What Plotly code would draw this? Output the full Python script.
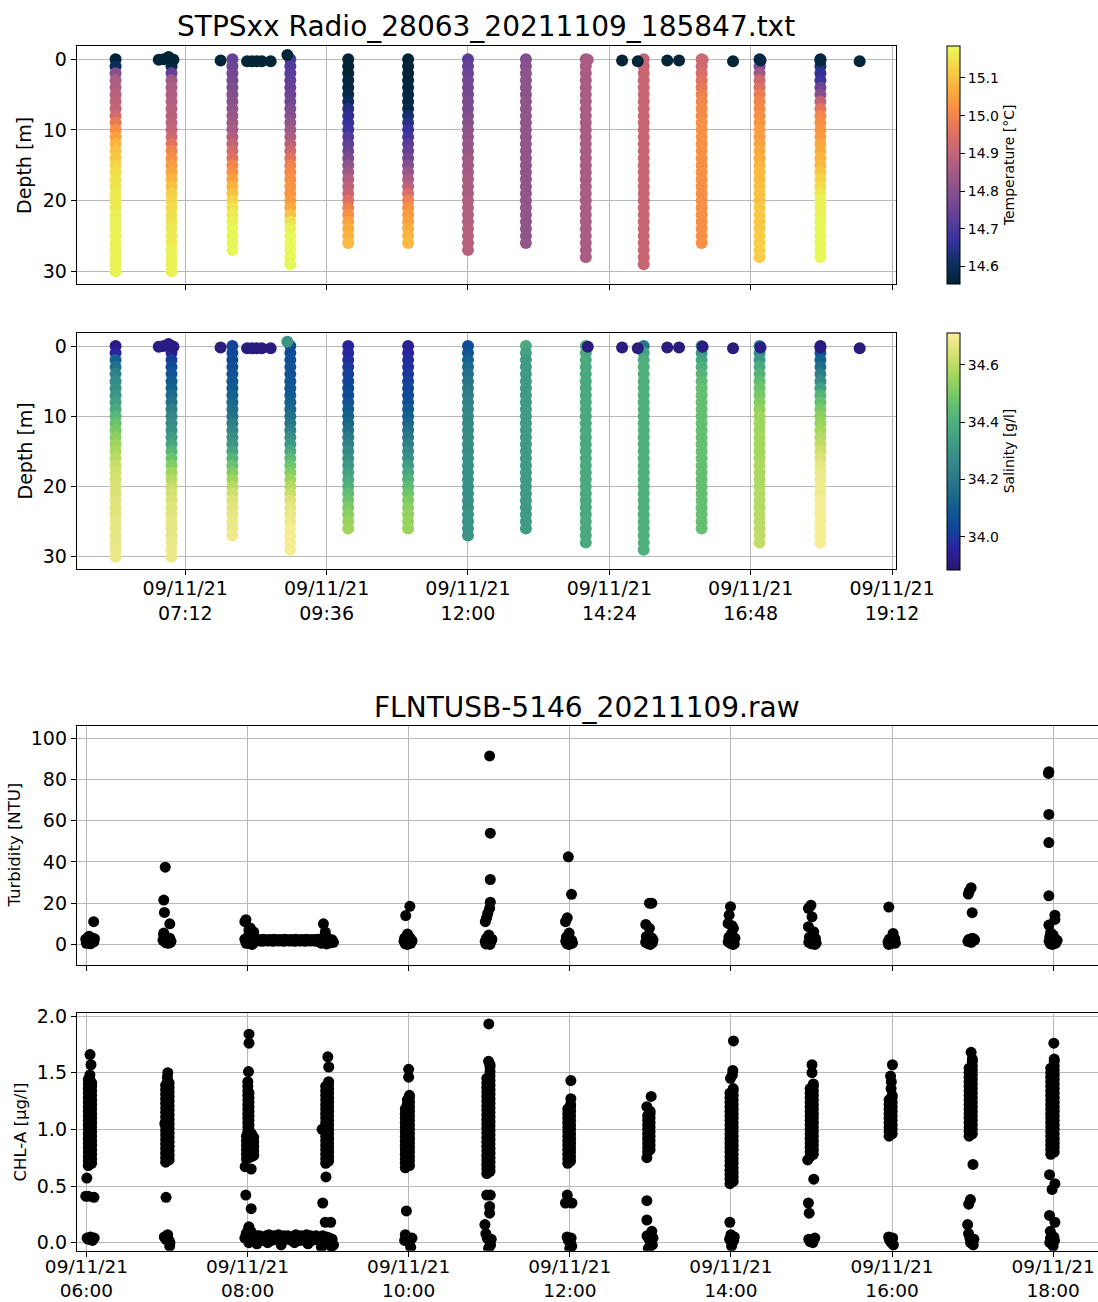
import pandas as pd
import plotly.graph_objects as go

DAY = "2021-11-09"

# ---------------- CTD casts (values per 1 m depth bin, from the surface) ----------------
PROFILE_TIMES = ["06:01", "06:58", "08:00", "08:59", "09:58", "10:59", "12:00",
                 "12:59", "14:00", "14:59", "15:58", "16:57", "17:59"]

TEMP_PROFILES = [
    [14.56, 14.60, 14.80, 14.86, 14.87, 14.88, 14.89, 14.90, 14.93, 14.98, 15.02, 15.05, 15.08, 15.10, 15.11, 15.13,
     15.14, 15.15, 15.15, 15.16, 15.16, 15.16, 15.17, 15.17, 15.17, 15.17, 15.17, 15.17, 15.17, 15.17, 15.17],
    [14.56, 14.58, 14.74, 14.84, 14.86, 14.87, 14.87, 14.88, 14.88, 14.89, 14.90, 14.92, 14.96, 15.00, 15.02, 15.04,
     15.06, 15.08, 15.10, 15.12, 15.13, 15.14, 15.15, 15.15, 15.16, 15.16, 15.16, 15.17, 15.17, 15.17, 15.17],
    [14.74, 14.75, 14.76, 14.77, 14.78, 14.79, 14.80, 14.82, 14.83, 14.84, 14.85, 14.87, 14.90, 14.93, 14.95, 15.00,
     15.02, 15.05, 15.08, 15.10, 15.13, 15.15, 15.16, 15.17, 15.18, 15.18, 15.18, 15.18],
    [14.70, 14.71, 14.72, 14.73, 14.74, 14.75, 14.76, 14.78, 14.80, 14.82, 14.84, 14.86, 14.89, 14.92, 14.96, 14.99,
     15.01, 15.02, 15.03, 15.03, 15.04, 15.06, 15.10, 15.15, 15.17, 15.18, 15.18, 15.18, 15.18, 15.18],
    [14.56, 14.56, 14.56, 14.57, 14.57, 14.58, 14.60, 14.64, 14.66, 14.67, 14.68, 14.71, 14.73, 14.75, 14.78, 14.81,
     14.84, 14.87, 14.89, 14.91, 14.95, 14.99, 15.02, 15.05, 15.07, 15.08, 15.09],
    [14.56, 14.56, 14.56, 14.56, 14.57, 14.57, 14.57, 14.58, 14.62, 14.65, 14.67, 14.69, 14.72, 14.74, 14.76, 14.79,
     14.83, 14.86, 14.89, 14.94, 14.99, 15.02, 15.04, 15.05, 15.07, 15.08, 15.09],
    [14.72, 14.74, 14.75, 14.76, 14.77, 14.77, 14.78, 14.78, 14.79, 14.80, 14.81, 14.82, 14.83, 14.83, 14.84, 14.85,
     14.85, 14.86, 14.86, 14.86, 14.87, 14.87, 14.87, 14.87, 14.88, 14.88, 14.88, 14.88],
    [14.79, 14.80, 14.81, 14.81, 14.81, 14.81, 14.82, 14.82, 14.82, 14.82, 14.82, 14.82, 14.82, 14.82, 14.82, 14.82,
     14.82, 14.82, 14.82, 14.82, 14.82, 14.82, 14.82, 14.82, 14.82, 14.82, 14.82],
    [14.85, 14.86, 14.86, 14.86, 14.86, 14.86, 14.86, 14.86, 14.86, 14.86, 14.86, 14.86, 14.86, 14.86, 14.86, 14.86,
     14.86, 14.86, 14.86, 14.86, 14.86, 14.86, 14.86, 14.86, 14.86, 14.86, 14.86, 14.86, 14.86],
    [14.90, 14.91, 14.91, 14.91, 14.91, 14.91, 14.91, 14.91, 14.91, 14.91, 14.91, 14.91, 14.91, 14.91, 14.91, 14.91,
     14.91, 14.91, 14.91, 14.91, 14.91, 14.91, 14.91, 14.91, 14.91, 14.91, 14.91, 14.91, 14.91, 14.91],
    [14.92, 14.92, 14.94, 14.96, 14.97, 14.99, 15.00, 15.01, 15.01, 15.02, 15.02, 15.02, 15.02, 15.02, 15.02, 15.02,
     15.02, 15.02, 15.02, 15.02, 15.02, 15.02, 15.02, 15.02, 15.02, 15.02, 15.02],
    [14.57, 14.78, 14.84, 14.92, 14.95, 14.98, 15.00, 15.01, 15.02, 15.03, 15.04, 15.04, 15.05, 15.06, 15.07, 15.08,
     15.09, 15.09, 15.10, 15.10, 15.10, 15.11, 15.11, 15.11, 15.11, 15.12, 15.12, 15.12, 15.12],
    [14.57, 14.64, 14.66, 14.68, 14.75, 14.80, 14.90, 14.96, 15.00, 15.02, 15.03, 15.04, 15.06, 15.07, 15.08, 15.09,
     15.11, 15.13, 15.14, 15.16, 15.17, 15.17, 15.17, 15.18, 15.18, 15.18, 15.18, 15.18, 15.18],
]

SAL_PROFILES = [
    [33.92, 33.96, 34.12, 34.18, 34.24, 34.27, 34.29, 34.31, 34.34, 34.38, 34.43, 34.47, 34.50, 34.53, 34.56, 34.58,
     34.60, 34.62, 34.63, 34.64, 34.65, 34.65, 34.66, 34.66, 34.66, 34.67, 34.67, 34.67, 34.67, 34.68, 34.68],
    [33.92, 33.94, 34.02, 34.05, 34.07, 34.10, 34.12, 34.15, 34.18, 34.22, 34.25, 34.27, 34.29, 34.33, 34.37, 34.43,
     34.48, 34.52, 34.56, 34.59, 34.62, 34.64, 34.65, 34.66, 34.66, 34.67, 34.67, 34.67, 34.68, 34.68, 34.68],
    [34.03, 34.04, 34.05, 34.06, 34.07, 34.08, 34.10, 34.12, 34.14, 34.16, 34.18, 34.22, 34.25, 34.28, 34.31, 34.36,
     34.42, 34.47, 34.52, 34.56, 34.59, 34.63, 34.65, 34.66, 34.67, 34.68, 34.68, 34.69],
    [34.05, 34.05, 34.06, 34.07, 34.07, 34.08, 34.09, 34.10, 34.12, 34.14, 34.17, 34.20, 34.24, 34.28, 34.32, 34.38,
     34.44, 34.48, 34.52, 34.56, 34.59, 34.62, 34.65, 34.67, 34.68, 34.69, 34.70, 34.70, 34.70, 34.70],
    [33.96, 33.97, 33.98, 34.00, 34.02, 34.03, 34.04, 34.05, 34.07, 34.10, 34.12, 34.14, 34.17, 34.21, 34.24, 34.27,
     34.29, 34.32, 34.35, 34.38, 34.41, 34.45, 34.48, 34.51, 34.53, 34.55, 34.56],
    [33.94, 33.96, 33.98, 33.99, 34.00, 34.02, 34.03, 34.04, 34.06, 34.09, 34.12, 34.14, 34.17, 34.20, 34.23, 34.26,
     34.29, 34.33, 34.37, 34.41, 34.45, 34.48, 34.51, 34.53, 34.54, 34.55, 34.55],
    [34.05, 34.08, 34.12, 34.15, 34.17, 34.19, 34.21, 34.23, 34.24, 34.25, 34.26, 34.27, 34.27, 34.28, 34.28, 34.28,
     34.29, 34.29, 34.29, 34.29, 34.29, 34.29, 34.29, 34.29, 34.30, 34.30, 34.30, 34.30],
    [34.38, 34.35, 34.33, 34.33, 34.33, 34.33, 34.33, 34.33, 34.33, 34.33, 34.33, 34.33, 34.33, 34.33, 34.33, 34.33,
     34.33, 34.33, 34.33, 34.33, 34.33, 34.33, 34.33, 34.33, 34.33, 34.33, 34.33],
    [34.40, 34.38, 34.38, 34.38, 34.38, 34.38, 34.38, 34.38, 34.38, 34.38, 34.38, 34.38, 34.38, 34.38, 34.38, 34.38,
     34.38, 34.38, 34.38, 34.38, 34.38, 34.38, 34.38, 34.38, 34.38, 34.38, 34.38, 34.38, 34.38],
    [34.20, 34.35, 34.40, 34.40, 34.40, 34.40, 34.40, 34.40, 34.40, 34.40, 34.40, 34.40, 34.40, 34.40, 34.40, 34.40,
     34.40, 34.40, 34.40, 34.40, 34.40, 34.40, 34.40, 34.40, 34.40, 34.40, 34.40, 34.40, 34.40, 34.40],
    [34.28, 34.32, 34.36, 34.40, 34.42, 34.44, 34.46, 34.46, 34.46, 34.46, 34.46, 34.46, 34.46, 34.46, 34.46, 34.46,
     34.46, 34.46, 34.46, 34.46, 34.46, 34.46, 34.46, 34.46, 34.46, 34.46, 34.46],
    [34.22, 34.26, 34.32, 34.38, 34.42, 34.45, 34.48, 34.50, 34.52, 34.54, 34.56, 34.56, 34.56, 34.57, 34.57, 34.57,
     34.57, 34.58, 34.58, 34.58, 34.58, 34.59, 34.59, 34.59, 34.60, 34.60, 34.60, 34.61, 34.61],
    [33.92, 34.08, 34.12, 34.17, 34.22, 34.28, 34.34, 34.42, 34.46, 34.50, 34.53, 34.55, 34.57, 34.59, 34.61, 34.63,
     34.65, 34.67, 34.68, 34.69, 34.69, 34.69, 34.70, 34.70, 34.70, 34.70, 34.70, 34.70, 34.70],
]

# readings taken at the surface between casts
SURF_TIMES = ["06:45", "06:50", "06:55", "07:00", "07:48", "08:15", "08:20", "08:25", "08:30", "08:39",
              "08:56", "14:02", "14:37", "14:53", "15:23", "15:35", "15:59", "16:30", "16:58", "17:59", "18:39"]
SURF_DEPTHS = [0.1, 0.0, -0.3, 0.1, 0.2, 0.3, 0.3, 0.3, 0.3, 0.3,
               -0.6, 0.1, 0.2, 0.3, 0.2, 0.2, 0.1, 0.3, 0.2, 0.2, 0.3]
SURF_TEMP = [14.56, 14.56, 14.56, 14.56, 14.56, 14.56, 14.56, 14.56, 14.56, 14.56,
             14.56, 14.86, 14.56, 14.56, 14.56, 14.56, 14.92, 14.56, 14.57, 14.57, 14.56]
SURF_SAL = [33.92, 33.92, 33.92, 33.92, 33.91, 33.91, 33.91, 33.91, 33.91, 33.91,
            34.30, 33.91, 33.91, 33.91, 33.91, 33.91, 33.92, 33.91, 33.92, 33.92, 33.91]

TEMP_TICKS = [14.6, 14.7, 14.8, 14.9, 15.0, 15.1]
SAL_TICKS = [34.0, 34.2, 34.4, 34.6]
DEPTH_TICKS = [0, 10, 20, 30]
TOP_XTICKS = ["07:12", "09:36", "12:00", "14:24", "16:48", "19:12"]

# ---------------- FLNTU sensor: minutes relative to each burst, values ----------------
TURB_HOURS = ["06:00", "07:00", "08:00", "10:00", "11:00", "12:00", "13:00", "14:00", "15:00", "16:00",
              "17:00", "18:00"]
TURB_OFFSETS = [
    [-0.5, 0.5, 1.5, 2.5, 3.5, 4.5, 5.5, 6.0, 0.0, 2.0, 4.0, 5.0, 1.0, 3.0, 5.4],
    [-3.0, -2.0, -1.0, 0.0, 1.0, 2.0, 3.0, -2.5, -0.5, 1.5, 2.5, -1.5, 0.5, -1.3, -2.4, -1.9, 2.1, -2.4],
    [-2, -1, 0, 1, 2, 3, 4, 5, -1.5, 0.5, 3.5, -1.2, -2.0, 2.0, 4.6, 1.0,
     6, 7, 8, 9, 10, 11, 12, 13, 14, 15, 16, 17, 18, 19, 20, 21, 22, 23, 24, 25, 26, 27, 28, 29,
     30, 31, 32, 33, 34, 35, 36, 37, 38, 39, 40, 41, 42, 43, 44, 45, 46, 47, 48, 49, 50, 51, 52, 53,
     54, 55, 56, 57, 58, 59, 60, 61, 62, 63, 64, 56.5, 57.9, 58.5],
    [-3.5, -2.5, -1.5, -0.5, 0.5, 1.5, 2.5, -3.0, -1.0, 1.0, 2.0, 0.0, 0.9, -2.2, -0.9],
    [-3.0, -2.0, -1.0, 0.0, 1.0, 2.0, -2.5, -0.5, 1.5, -1.5, 0.5, 0.3, 0.8, 0.8, 0.8, 0.3, -1.1, -1.9, -2.9, -0.3],
    [-3.0, -2.0, -1.0, 0.0, 1.0, 2.0, -2.5, -0.5, 1.5, -1.5, -1.1, 1.3, -1.9, -3.2, -0.5],
    [-3.5, -2.5, -1.5, -0.5, 0.5, 1.5, 2.0, -3.0, -1.0, 1.0, 0.0, -0.7, 1.1, -3.4, -0.7],
    [-2.0, -1.0, 0.0, 1.0, 2.0, 3.0, -1.5, 0.5, 2.5, -0.5, 1.5, -0.3, -1.3, -2.1, 1.9, 0.5, 0.9],
    [-2.0, -1.0, 0.0, 1.0, 2.0, 3.0, 3.5, -1.5, 0.5, 2.5, 1.5, -0.4, -2.3, 0.4, -2.3, 1.7],
    [-3.0, -2.0, -1.0, 0.0, 1.0, 2.0, 2.5, -2.5, -0.5, 1.5, -2.4, 0.8],
    [-3.5, -2.5, -1.5, -0.5, 0.5, 1.5, -3.0, -1.0, 1.0, 0.0, -1.1, -2.4, -3.2, -0.3],
    [-3.0, -2.0, -1.0, 0.0, 1.0, 2.0, 3.0, -2.5, -0.5, 1.5, 0.5, -3.2, -3.5, -3.2, -3.2, -3.2, 1.3, 1.3, -3.2,
     -1.9, 0.0],
]
TURB_VALUES = [
    [2.5, 1.5, 3.5, 0.8, 2.0, 3.0, 1.2, 2.8, 0.5, 4.0, 1.0, 2.2, 3.0, 0.3, 11.0],
    [2.0, 3.5, 1.0, 2.5, 0.5, 3.0, 1.5, 4.5, 0.8, 2.2, 1.0, 3.0, 1.8, 37.5, 21.5, 15.5, 10.0, 5.5],
    [2.5, 0.5, 3.0, 1.5, 0.3, 2.8, 1.0, 2.2, 1.8, 4.0, 0.0, 12.0, 11.0, 8.0, 6.0, 7.0,
     2.1, 1.6, 2.4, 1.8, 2.2, 1.5, 2.5, 1.9, 2.1, 1.6, 2.4, 1.8, 2.2, 1.5, 2.5, 1.9, 2.1, 1.6, 2.4, 1.8,
     2.2, 1.5, 2.5, 1.9, 2.1, 1.6, 2.4, 1.8, 2.2, 1.5, 2.5, 1.9, 2.1, 1.6, 2.4, 1.8, 2.2, 1.5, 2.5, 1.9,
     2.1, 1.6, 2.4, 1.8, 2.2, 1.5, 2.5, 1.9,
     2.5, 0.5, 3.0, 1.2, 2.0, 0.2, 2.8, 1.5, 0.8, 2.2, 1.0, 10.0, 6.0, 3.8],
    [1.5, 0.3, 2.5, 1.0, 2.0, 0.5, 1.8, 3.0, 0.0, 3.2, 1.2, 0.8, 18.5, 14.0, 5.0],
    [1.5, 3.0, 0.5, 2.0, 1.0, 2.5, 0.2, 3.5, 1.8, 1.2, 0.0, 91.5, 54.0, 31.5, 20.5, 17.5, 15.0, 13.0, 11.0, 4.5],
    [1.5, 0.3, 2.8, 1.0, 2.2, 0.6, 3.5, 0.0, 1.8, 4.0, 42.5, 24.3, 12.9, 11.0, 5.5],
    [1.0, 2.5, 0.3, 3.0, 1.5, 0.8, 2.2, 3.8, 1.8, 3.2, 0.0, 20.0, 20.0, 9.7, 7.8],
    [1.2, 2.8, 0.4, 2.0, 1.0, 3.0, 3.5, 1.6, 0.2, 2.4, 0.0, 18.3, 14.2, 10.2, 7.8, 5.3, 9.0],
    [1.0, 2.5, 0.3, 2.0, 1.2, 2.8, 0.6, 3.5, 1.8, 0.0, 3.2, 19.0, 17.5, 13.4, 8.6, 6.1],
    [1.2, 2.5, 0.3, 2.0, 1.0, 2.8, 0.6, 0.0, 3.0, 1.5, 18.1, 5.3],
    [1.5, 2.5, 1.2, 2.8, 1.8, 2.2, 2.0, 1.0, 2.5, 3.0, 27.5, 26.0, 24.4, 15.4],
    [1.5, 0.3, 2.5, 1.0, 2.8, 0.6, 2.0, 3.5, 0.0, 1.8, 3.2, 83.8, 83.0, 63.1, 49.4, 23.6, 14.2, 12.1, 9.4,
     5.7, 4.5],
]

# CHL-A: dense part of each burst, read as vertical strands (burst hour, minute offset, values)
CHL_STRAND_HOURS = ["06:00", "06:00", "06:00", "07:00", "07:00", "07:00",
                    "08:00", "08:00", "08:00", "08:00", "08:00", "08:00",
                    "09:00", "09:00", "10:00", "10:00", "10:00", "11:00", "11:00",
                    "12:00", "12:00", "13:00", "13:00", "14:00", "14:00", "15:00", "15:00",
                    "16:00", "16:00", "17:00", "17:00", "18:00", "18:00"]
CHL_STRAND_OFFSETS = [1.4, 3.9, 2.6, -1.0, 1.6, 0.3,
                      -0.8, 1.2, 3.0, 4.6, 0.2, 1.1,
                      -1.8, 0.4, -2.5, 0.6, -1.0, -1.8, 0.6,
                      -1.5, 0.6, -2.0, -0.2, -0.7, 1.7, -1.0, 1.4,
                      -2.2, 0.1, -2.6, -0.2, -1.8, 0.8]
CHL_STRAND_VALUES = [
    [0.68, 0.72, 0.76, 0.80, 0.84, 0.88, 0.92, 0.96, 1.00, 1.04, 1.08, 1.12, 1.16, 1.20, 1.24, 1.28, 1.32, 1.36,
     1.40, 1.44],
    [0.70, 0.74, 0.78, 0.82, 0.86, 0.90, 0.94, 0.98, 1.02, 1.06, 1.10, 1.14, 1.18, 1.22, 1.26, 1.30, 1.34, 1.38,
     1.41],
    [0.80, 0.95, 1.10, 1.25, 1.38, 1.44, 1.48],
    [0.71, 0.75, 0.79, 0.83, 0.87, 0.91, 0.95, 0.99, 1.03, 1.07, 1.11, 1.15, 1.19, 1.23, 1.27, 1.31, 1.35, 1.39],
    [0.73, 0.77, 0.81, 0.85, 0.89, 0.93, 0.97, 1.01, 1.05, 1.09, 1.13, 1.17, 1.21, 1.25, 1.29, 1.33, 1.37, 1.41],
    [0.80, 1.00, 1.20, 1.38, 1.42, 1.46],
    [0.74, 0.78, 0.82, 0.86, 0.90, 0.94],
    [0.75, 0.79, 0.83, 0.87, 0.91, 0.95],
    [0.76, 0.80, 0.84, 0.88, 0.92, 0.96],
    [0.77, 0.81, 0.85, 0.89, 0.93],
    [0.98, 1.02, 1.06, 1.10, 1.14, 1.18, 1.22, 1.26, 1.30, 1.34, 1.38, 1.42],
    [1.00, 1.04, 1.08, 1.12, 1.16, 1.20, 1.24, 1.28, 1.32],
    [0.70, 0.74, 0.78, 0.82, 0.86, 0.90, 0.94, 0.98, 1.02, 1.06, 1.10, 1.14, 1.18, 1.22, 1.26, 1.30, 1.34, 1.38],
    [0.72, 0.76, 0.80, 0.84, 0.88, 0.92, 0.96, 1.00, 1.04, 1.08, 1.12, 1.16, 1.20, 1.24, 1.28, 1.32, 1.36, 1.40,
     1.42],
    [0.66, 0.70, 0.74, 0.78, 0.82, 0.86, 0.90, 0.94, 0.98, 1.02, 1.06, 1.10, 1.14, 1.18],
    [0.68, 0.72, 0.76, 0.80, 0.84, 0.88, 0.92, 0.96, 1.00, 1.04, 1.08, 1.12, 1.16, 1.20, 1.24, 1.28, 1.30],
    [0.75, 0.85, 0.95, 1.05, 1.15, 1.22, 1.26],
    [0.61, 0.65, 0.69, 0.73, 0.77, 0.81, 0.85, 0.89, 0.93, 0.97, 1.01, 1.05, 1.09, 1.13, 1.17, 1.21, 1.25, 1.29,
     1.33, 1.37, 1.41, 1.45],
    [0.63, 0.67, 0.71, 0.75, 0.79, 0.83, 0.87, 0.91, 0.95, 0.99, 1.03, 1.07, 1.11, 1.15, 1.19, 1.23, 1.27, 1.31,
     1.35, 1.39, 1.43, 1.47, 1.51, 1.55, 1.57],
    [0.70, 0.74, 0.78, 0.82, 0.86, 0.90, 0.94, 0.98, 1.02, 1.06, 1.10, 1.14, 1.18],
    [0.72, 0.76, 0.80, 0.84, 0.88, 0.92, 0.96, 1.00, 1.04, 1.08, 1.12, 1.16, 1.20, 1.22],
    [0.80, 0.84, 0.88, 0.92, 0.96, 1.00, 1.04, 1.08, 1.12],
    [0.82, 0.86, 0.90, 0.94, 0.98, 1.02, 1.06, 1.10, 1.14, 1.16],
    [0.52, 0.56, 0.60, 0.64, 0.68, 0.72, 0.76, 0.80, 0.84, 0.88, 0.92, 0.96, 1.00, 1.04, 1.08, 1.12, 1.16, 1.20,
     1.24, 1.28, 1.32],
    [0.54, 0.58, 0.62, 0.66, 0.70, 0.74, 0.78, 0.82, 0.86, 0.90, 0.94, 0.98, 1.02, 1.06, 1.10, 1.14, 1.18, 1.22,
     1.26, 1.30, 1.34, 1.36],
    [0.76, 0.80, 0.84, 0.88, 0.92, 0.96, 1.00, 1.04, 1.08, 1.12, 1.16, 1.20, 1.24, 1.28, 1.32, 1.36],
    [0.78, 0.82, 0.86, 0.90, 0.94, 0.98, 1.02, 1.06, 1.10, 1.14, 1.18, 1.22, 1.26, 1.30, 1.34, 1.38, 1.40],
    [0.94, 0.98, 1.02, 1.06, 1.10, 1.14, 1.18, 1.22, 1.26],
    [0.96, 1.00, 1.04, 1.08, 1.12, 1.16, 1.20, 1.24, 1.28, 1.30],
    [0.94, 0.98, 1.02, 1.06, 1.10, 1.14, 1.18, 1.22, 1.26, 1.30, 1.34, 1.38, 1.42, 1.46, 1.50, 1.54],
    [0.96, 1.00, 1.04, 1.08, 1.12, 1.16, 1.20, 1.24, 1.28, 1.32, 1.36, 1.40, 1.44, 1.48, 1.52, 1.56, 1.60, 1.62],
    [0.78, 0.82, 0.86, 0.90, 0.94, 0.98, 1.02, 1.06, 1.10, 1.14, 1.18, 1.22, 1.26, 1.30, 1.34, 1.38, 1.42, 1.46,
     1.50, 1.54],
    [0.80, 0.84, 0.88, 0.92, 0.96, 1.00, 1.04, 1.08, 1.12, 1.16, 1.20, 1.24, 1.28, 1.32, 1.36, 1.40, 1.44, 1.48,
     1.52, 1.56, 1.60, 1.62],
]

# CHL-A: isolated readings and near-zero readings of each burst
CHL_HOURS = ["06:00", "07:00", "08:00", "09:00", "10:00", "11:00", "12:00", "13:00", "14:00", "15:00",
             "16:00", "17:00", "18:00"]
CHL_OFFSETS = [
    [3.4, 2.7, 0.3, -0.5, 1.3, 5.6, 0.5, 1.5, 3.0, 4.5, 5.8],
    [0.6, -1.6, -0.7, -2.0, -0.8, 0.5, 1.5, 2.2, 2.0],
    [1.1, 1.1, 0.7, -1.8, 2.7, -1.3, 2.7, 1.0, 2.5,
     -2, -1, 0, 1, 2, 3, 4, 5, 6, 7, 8, 9, 10, 11, 12, 13, 14, 15, 16, 17, 18, 19, 20, 21, 22, 23, 24,
     25, 26, 27, 28, 29, 30, 31, 32, 33, 34, 35, 36, 37, 38, 39, 40, 41, 42, 43, 44, 45, 46, 47, 48, 49,
     50, 51, 52, 53, 54, 55, 56, 57, 58, 59, 60, 61, 62, 63, 64,
     1, 7, 15, 25, 35, 45, 55, 61],
    [-0.2, 0.5, -4.5, -1.6, -4.0, -2.1, 1.9, 1.5, 3.0],
    [0.0, 0.0, -1.7, -2.5, -1.0, 0.5, 1.5, 2.5, -3.0],
    [-0.3, -0.5, -1.9, 0.8, 0.3, 0.3, -3.2, -2.5, -1.5, 0.0, 1.0, -0.5, 1.5],
    [0.8, 0.8, -1.9, -3.2, 1.6, -2.0, -1.0, 0.5, 1.5, 1.0, 0.0],
    [0.6, -2.6, -2.6, -2.6, -2.6, 1.1, -2.5, -1.0, 0.5, 1.5, 2.0, -1.5],
    [1.9, 1.4, 1.1, -0.3, -0.8, 0.0, -1.0, 1.0, 0.5, 2.5, 2.0],
    [0.4, 0.4, -2.8, 1.7, -2.3, -1.7, -2.0, 0.0, 1.0, 2.5, -1.0],
    [0.3, -1.1, -0.5, -0.7, -2.5, -1.5, -0.5, 0.5, 1.0, -2.0],
    [-1.1, 0.3, -1.6, -2.9, -3.7, -3.0, -2.0, -0.5, 0.5, 1.0, -1.5],
    [0.5, -2.7, 1.3, -0.8, -2.7, 1.3, -2.1, -2.0, -1.0, 0.0, 1.0, 0.5, -2.5],
]
CHL_VALUES = [
    [1.57, 1.66, 0.57, 0.41, 0.41, 0.40, 0.04, 0.03, 0.05, 0.02, 0.04],
    [1.50, 1.05, 0.40, 0.05, 0.03, 0.07, 0.02, 0.00, -0.03],
    [1.76, 1.84, 1.51, 0.67, 0.65, 0.42, 0.30, 0.14, 0.10,
     0.04, 0.08, 0.10, 0.12, 0.09, 0.06, 0.03, 0.05, 0.02, 0.06, 0.04, 0.06, 0.03, 0.05, 0.02, 0.04, 0.06,
     0.03, 0.07, 0.04, 0.02, 0.05, 0.06, 0.03, 0.05, 0.07, 0.04, 0.02, 0.05, 0.06, 0.03, 0.04, 0.06, 0.03,
     0.05, 0.02, 0.04, 0.06, 0.07, 0.03, 0.05, 0.02, 0.06, 0.04, 0.02, 0.05, 0.07, 0.03, 0.04, 0.06, 0.02,
     0.05, 0.03, 0.06, 0.04, 0.02, 0.05, 0.03, 0.06, 0.04, 0.01, 0.05, 0.02, 0.04, -0.03, 0.03,
     -0.02, 0.00, -0.01, 0.00, -0.02, 0.00, -0.01, -0.04],
    [1.64, 1.55, 1.00, 0.58, 0.35, 0.18, 0.18, 0.02, -0.03],
    [1.53, 1.46, 0.28, 0.07, 0.03, 0.01, -0.04, 0.04, 0.02],
    [1.93, 1.60, 0.42, 0.42, 0.32, 0.26, 0.16, 0.08, 0.04, 0.02, -0.02, -0.05, 0.03],
    [1.43, 1.27, 0.42, 0.35, 0.35, 0.05, 0.02, 0.00, -0.03, 0.04, -0.05],
    [1.29, 1.20, 0.75, 0.37, 0.20, 0.10, 0.06, 0.03, 0.00, -0.02, 0.04, -0.05],
    [1.78, 1.52, 1.48, 1.45, 0.18, 0.07, 0.03, 0.00, -0.03, 0.05, 0.02],
    [1.57, 1.50, 0.73, 0.56, 0.35, 0.26, 0.03, 0.02, 0.00, 0.04, 0.01],
    [1.57, 1.47, 1.42, 1.36, 0.05, 0.02, 0.00, 0.04, -0.02, 0.03],
    [1.68, 0.69, 0.38, 0.34, 0.16, 0.08, 0.04, 0.01, -0.02, 0.03, 0.00],
    [1.76, 0.60, 0.52, 0.47, 0.24, 0.18, 0.10, 0.04, 0.01, -0.03, 0.02, 0.05, 0.00],
]

BOTTOM_XTICKS = ["06:00", "08:00", "10:00", "12:00", "14:00", "16:00", "18:00"]
TURB_TICKS = [0, 20, 40, 60, 80, 100]
CHL_TICKS = [0.0, 0.5, 1.0, 1.5, 2.0]

# ---------------- figure ----------------
W, H = 1098, 1302
FONT = "DejaVu Sans"


def at(hhmm, minutes=0.0):
    return pd.Timestamp(f"{DAY} {hhmm}") + pd.Timedelta(minutes=minutes)


def fx(p):
    return p / W


def fy(p):
    return 1 - p / H


px_t, px_d, px_T, px_S = [], [], [], []
for hhmm, temps, sals in zip(PROFILE_TIMES, TEMP_PROFILES, SAL_PROFILES):
    for depth, (tv, sv) in enumerate(zip(temps, sals)):
        px_t.append(at(hhmm))
        px_d.append(depth)
        px_T.append(tv)
        px_S.append(sv)

surf_t = [at(s) for s in SURF_TIMES]

fig = go.Figure()
MS_TOP = 12
fig.add_trace(go.Scatter(x=px_t, y=px_d, mode="markers", xaxis="x", yaxis="y",
                         marker=dict(size=MS_TOP, color=px_T, coloraxis="coloraxis", line=dict(width=0))))
fig.add_trace(go.Scatter(x=surf_t, y=SURF_DEPTHS, mode="markers", xaxis="x", yaxis="y",
                         marker=dict(size=MS_TOP, color=SURF_TEMP, coloraxis="coloraxis", line=dict(width=0))))
fig.add_trace(go.Scatter(x=px_t, y=px_d, mode="markers", xaxis="x2", yaxis="y2",
                         marker=dict(size=MS_TOP, color=px_S, coloraxis="coloraxis2", line=dict(width=0))))
fig.add_trace(go.Scatter(x=surf_t, y=SURF_DEPTHS, mode="markers", xaxis="x2", yaxis="y2",
                         marker=dict(size=MS_TOP, color=SURF_SAL, coloraxis="coloraxis2", line=dict(width=0))))

tt, tv = [], []
for h, offs, vals in zip(TURB_HOURS, TURB_OFFSETS, TURB_VALUES):
    for o, v in zip(offs, vals):
        tt.append(at(h, o))
        tv.append(v)
ct, cv = [], []
for h, o, vals in zip(CHL_STRAND_HOURS, CHL_STRAND_OFFSETS, CHL_STRAND_VALUES):
    for v in vals:
        ct.append(at(h, o))
        cv.append(v)
for h, offs, vals in zip(CHL_HOURS, CHL_OFFSETS, CHL_VALUES):
    for o, v in zip(offs, vals):
        ct.append(at(h, o))
        cv.append(v)

MS_BOT = 11
fig.add_trace(go.Scatter(x=tt, y=tv, mode="markers", xaxis="x3", yaxis="y3",
                         marker=dict(size=MS_BOT, color="black", line=dict(width=0))))
fig.add_trace(go.Scatter(x=ct, y=cv, mode="markers", xaxis="x4", yaxis="y4",
                         marker=dict(size=MS_BOT, color="black", line=dict(width=0))))

GRID = "#b8b8b8"
tickfont = dict(family=FONT, size=19, color="black")
common_axis = dict(showgrid=True, gridcolor=GRID, gridwidth=1, showline=True, linecolor="black", linewidth=1,
                   ticks="outside", ticklen=5, tickwidth=1, tickcolor="black", tickfont=tickfont, zeroline=False,
                   automargin=False)

top_range = [f"{DAY} 05:21:24", f"{DAY} 19:16:00"]
bot_range = [f"{DAY} 05:52:50", f"{DAY} 18:33:24"]
top_tv = [at(s) for s in TOP_XTICKS]
top_tt = [f"09/11/21<br>{s}" for s in TOP_XTICKS]
bot_tv = [at(s) for s in BOTTOM_XTICKS]
bot_tt = [f"09/11/21<br>{s}" for s in BOTTOM_XTICKS]

x_top_dom = [fx(76.7), fx(896)]
x_bot_dom = [fx(76.8), 1.0]

cb_common = dict(xanchor="left", xref="paper", yanchor="middle", lenmode="fraction", thickness=13,
                 thicknessmode="pixels", xpad=0, ypad=0, outlinewidth=1, outlinecolor="black",
                 ticks="outside", ticklen=5, tickcolor="black",
                 tickfont=dict(family=FONT, size=14, color="black"))

fig.update_layout(
    width=W, height=H, autosize=False,
    margin=dict(l=0, r=0, t=0, b=0, autoexpand=False),
    paper_bgcolor="white", plot_bgcolor="white",
    showlegend=False, hovermode=False,
    font=dict(family=FONT, color="black"),
    xaxis=dict(common_axis, domain=x_top_dom, anchor="y", type="date", range=top_range,
               tickvals=top_tv, showticklabels=False, mirror=True),
    yaxis=dict(common_axis, domain=[fy(284), fy(45.7)], anchor="x", range=[31.8, -1.9],
               tickvals=DEPTH_TICKS, mirror=True),
    xaxis2=dict(common_axis, domain=x_top_dom, anchor="y2", type="date", range=top_range,
                tickvals=top_tv, ticktext=top_tt, mirror=True, ticklabelstandoff=-3),
    yaxis2=dict(common_axis, domain=[fy(569.3), fy(332.7)], anchor="x2", range=[31.8, -1.9],
                tickvals=DEPTH_TICKS, mirror=True),
    xaxis3=dict(common_axis, domain=x_bot_dom, anchor="y3", type="date", range=bot_range,
                tickvals=bot_tv, showticklabels=False, mirror=True),
    yaxis3=dict(common_axis, domain=[fy(965), fy(726)], anchor="x3", range=[-10.0, 106.0],
                tickvals=TURB_TICKS, mirror=False),
    xaxis4=dict(common_axis, domain=x_bot_dom, anchor="y4", type="date", range=bot_range,
                tickvals=bot_tv, ticktext=bot_tt, mirror=True, ticklabelstandoff=-6,
                tickfont=dict(family=FONT, size=18.5, color="black")),
    yaxis4=dict(common_axis, domain=[fy(1250.7), fy(1013.3)], anchor="x4", range=[-0.071, 2.024],
                tickvals=CHL_TICKS, ticktext=[f"{v:.1f}" for v in CHL_TICKS], mirror=False),
    coloraxis=dict(
        colorscale="thermal", cmin=14.554, cmax=15.185,
        colorbar=dict(cb_common, x=fx(946.7), y=fy(164.85), len=(284 - 45.7) / H,
                      tickvals=TEMP_TICKS, ticktext=[f"{v:.1f}" for v in TEMP_TICKS],
                      title=dict(text="Temperature [°C]", side="right",
                                 font=dict(family=FONT, size=14, color="black"))),
    ),
    coloraxis2=dict(
        colorscale="haline", cmin=33.886, cmax=34.713,
        colorbar=dict(cb_common, x=fx(946.7), y=fy(451), len=(569.3 - 332.7) / H,
                      tickvals=SAL_TICKS, ticktext=[f"{v:.1f}" for v in SAL_TICKS],
                      title=dict(text="Salinity [g/l]", side="right",
                                 font=dict(family=FONT, size=14, color="black"))),
    ),
)

annos = [
    dict(text="STPSxx Radio_28063_20211109_185847.txt", x=fx(486), y=fy(27), size=28, angle=0),
    dict(text="FLNTUSB-5146_20211109.raw", x=fx(587.5), y=fy(707), size=28, angle=0),
    dict(text="Depth [m]", x=fx(24), y=fy(166), size=19, angle=-90),
    dict(text="Depth [m]", x=fx(24), y=fy(451.5), size=19, angle=-90),
    dict(text="Turbidity [NTU]", x=fx(14.5), y=fy(845), size=16.5, angle=-90),
    dict(text="CHL-A [µg/l]", x=fx(19.5), y=fy(1132), size=16.5, angle=-90),
]
for a in annos:
    fig.add_annotation(text=a["text"], x=a["x"], y=a["y"], xref="paper", yref="paper",
                       xanchor="center", yanchor="middle", showarrow=False, textangle=a["angle"],
                       font=dict(family=FONT, size=a["size"], color="black"))

fig.write_html("out.html", config={"displayModeBar": False},
               post_script="document.body.style.margin='0';")
